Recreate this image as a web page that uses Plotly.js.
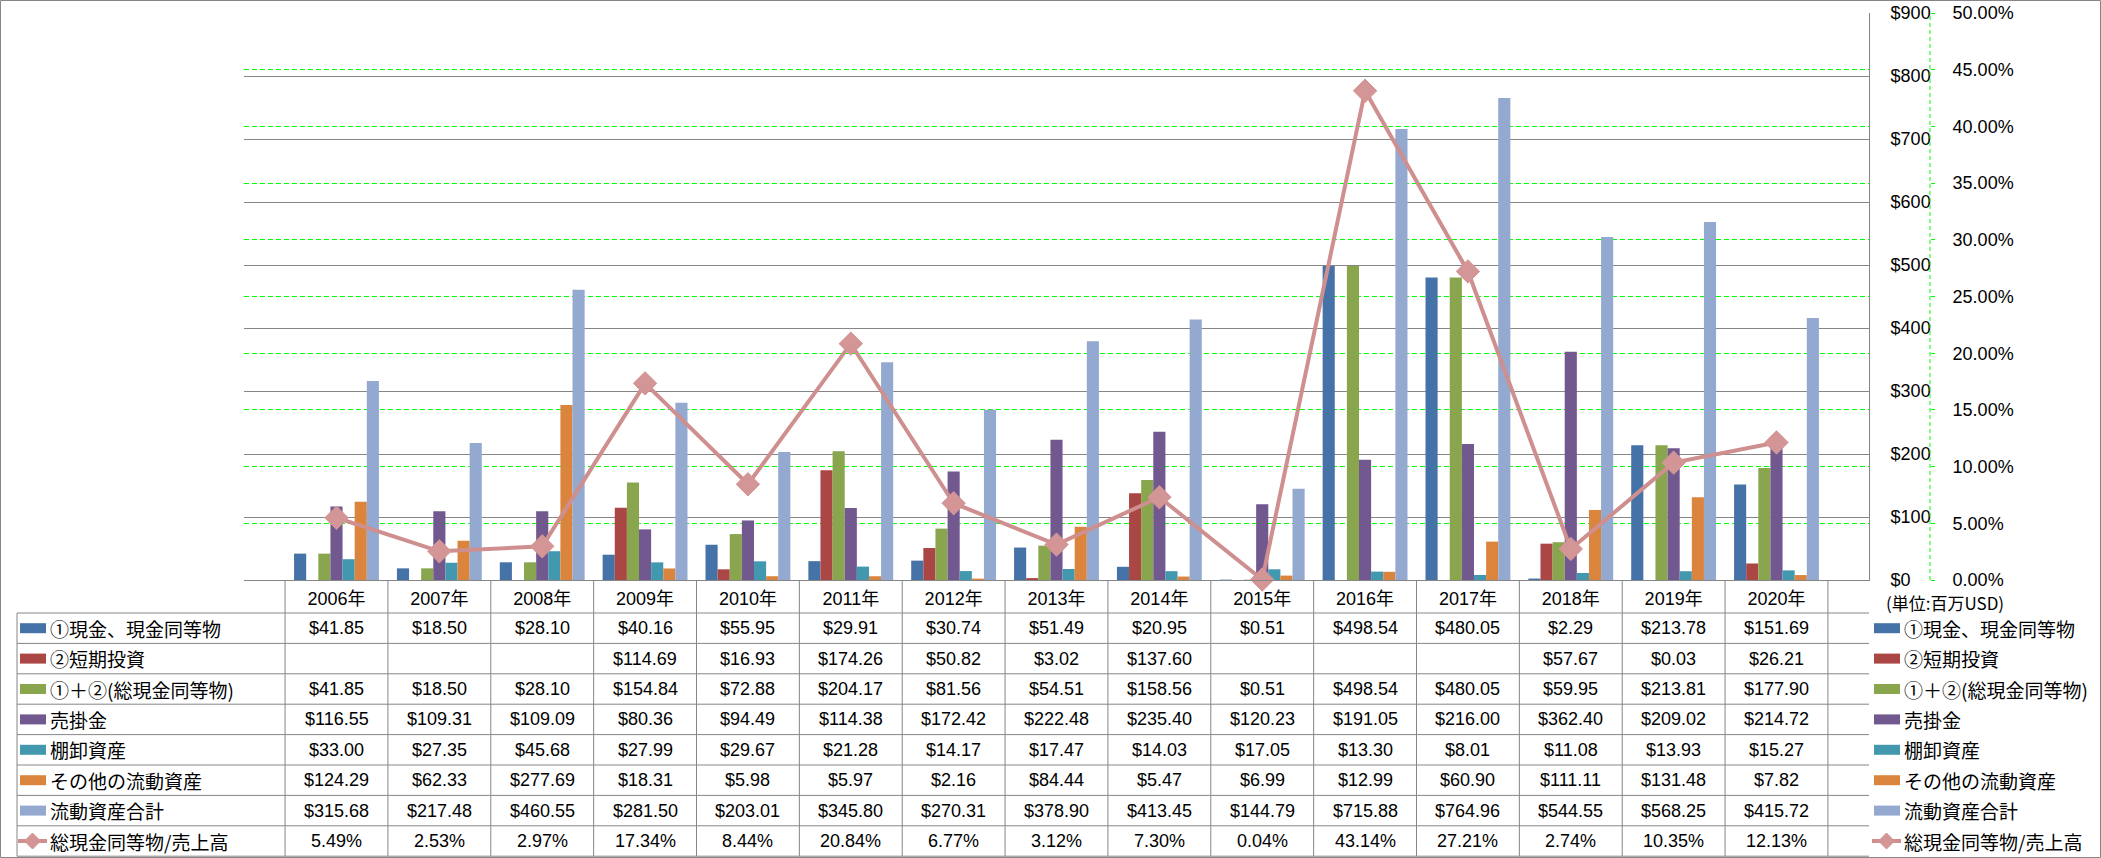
<!DOCTYPE html>
<html>
<head>
<meta charset="utf-8">
<script src="https://cdn.plot.ly/plotly-3.0.1.min.js"></script>
<style>
  body { margin: 0; background: #fff; }
  #chart { width: 2101px; height: 858px; }
</style>
</head>
<body>
<div id="chart"></div>
<script>
// 年度
const years = ["2006年", "2007年", "2008年", "2009年", "2010年", "2011年", "2012年", "2013年",
  "2014年", "2015年", "2016年", "2017年", "2018年", "2019年", "2020年"];

// 系列（百万USD）
const cash = [41.85, 18.50, 28.10, 40.16, 55.95, 29.91, 30.74, 51.49, 20.95, 0.51, 498.54, 480.05, 2.29, 213.78, 151.69];
const shortInv = [null, null, null, 114.69, 16.93, 174.26, 50.82, 3.02, 137.60, null, null, null, 57.67, 0.03, 26.21];
const totalCash = [41.85, 18.50, 28.10, 154.84, 72.88, 204.17, 81.56, 54.51, 158.56, 0.51, 498.54, 480.05, 59.95, 213.81, 177.90];
const receivables = [116.55, 109.31, 109.09, 80.36, 94.49, 114.38, 172.42, 222.48, 235.40, 120.23, 191.05, 216.00, 362.40, 209.02, 214.72];
const inventory = [33.00, 27.35, 45.68, 27.99, 29.67, 21.28, 14.17, 17.47, 14.03, 17.05, 13.30, 8.01, 11.08, 13.93, 15.27];
const otherCurrent = [124.29, 62.33, 277.69, 18.31, 5.98, 5.97, 2.16, 84.44, 5.47, 6.99, 12.99, 60.90, 111.11, 131.48, 7.82];
const currentTotal = [315.68, 217.48, 460.55, 281.50, 203.01, 345.80, 270.31, 378.90, 413.45, 144.79, 715.88, 764.96, 544.55, 568.25, 415.72];
// 総現金同等物/売上高（%）
const cashRatio = [5.49, 2.53, 2.97, 17.34, 8.44, 20.84, 6.77, 3.12, 7.30, 0.04, 43.14, 27.21, 2.74, 10.35, 12.13];

const barNames = ["①現金、現金同等物", "②短期投資", "①＋②(総現金同等物)", "売掛金", "棚卸資産", "その他の流動資産", "流動資産合計"];
const lineName = "総現金同等物/売上高";
const barSeries = [cash, shortInv, totalCash, receivables, inventory, otherCurrent, currentTotal];
const barColors = ["#4572A7", "#AA4643", "#89A54E", "#71588F", "#4198AF", "#DB843D", "#93A9CF"];
const lineColor = "#CF8F8F";
const markerColor = "#D39595";

const GRAY = "#868686";
const GREEN = "#00FF00";
const FONT = "Liberation Sans, Noto Sans CJK JP, sans-serif";
const JP_FONT = "Noto Sans CJK JP, sans-serif";

// ピクセル → paper 座標
const PL = 244, PR = 1930, PT = 13, PB = 580;
const px2x = px => (px - PL) / (PR - PL);
const px2y = py => (PB - py) / (PB - PT);

// データテーブルの寸法
const rowTop = 613, rowH = 30.4, tableLeft = 17, tableRight = 1869;

const traces = barSeries.map((vals, k) => ({
  type: "bar",
  name: barNames[k],
  x: years,
  y: vals,
  marker: { color: barColors[k] },
  hoverinfo: "skip"
}));
traces.push({
  type: "scatter",
  mode: "lines+markers",
  name: lineName,
  x: years,
  y: cashRatio,
  yaxis: "y2",
  cliponaxis: false,
  line: { color: lineColor, width: 4 },
  marker: { symbol: "diamond", size: 18, color: markerColor, line: { color: markerColor, width: 1 } },
  hoverinfo: "skip"
});

const shapes = [];
const annotations = [];

// 外枠
shapes.push({ type: "rect", xref: "paper", yref: "paper",
  x0: px2x(0.5), x1: px2x(2100.5), y0: px2y(0.5), y1: px2y(857.5),
  line: { color: GRAY, width: 1 } });

// 第2軸の破線
shapes.push({ type: "line", xref: "paper", yref: "paper", x0: 1, x1: 1, y0: 0, y1: 1,
  line: { color: GREEN, width: 1, dash: "4px,3px" } });

// テーブル横線
for (let k = 0; k <= 8; k++) {
  const y = px2y(rowTop + k * rowH);
  shapes.push({ type: "line", xref: "paper", yref: "paper", x0: px2x(tableLeft), x1: px2x(tableRight),
    y0: y, y1: y, line: { color: GRAY, width: 1 } });
}
// テーブル縦線
for (let i = 0; i <= years.length; i++) {
  shapes.push({ type: "line", xref: "x", yref: "paper", x0: i - 0.5, x1: i - 0.5,
    y0: 0, y1: px2y(rowTop + 8 * rowH), line: { color: GRAY, width: 1 } });
}
shapes.push({ type: "line", xref: "paper", yref: "paper", x0: px2x(tableLeft), x1: px2x(tableLeft),
  y0: px2y(rowTop), y1: px2y(rowTop + 8 * rowH), line: { color: GRAY, width: 1 } });

// 凡例キー（左列と右側）
const allNames = barNames.concat([lineName]);
[20, 1874].forEach(kx => {
  allNames.forEach((name, k) => {
    const yc = rowTop + (k + 0.5) * rowH;
    if (k < barNames.length) {
      shapes.push({ type: "rect", xref: "paper", yref: "paper",
        x0: px2x(kx), x1: px2x(kx + 26), y0: px2y(yc - 5), y1: px2y(yc + 5),
        fillcolor: barColors[k], line: { width: 0 } });
    } else {
      shapes.push({ type: "line", xref: "paper", yref: "paper",
        x0: px2x(kx - 2), x1: px2x(kx + 27), y0: px2y(yc), y1: px2y(yc),
        line: { color: lineColor, width: 4 } });
      const cx = kx + 12.5, d = 8;
      shapes.push({ type: "path", xref: "paper", yref: "paper",
        path: `M${px2x(cx - d)},${px2y(yc)} L${px2x(cx)},${px2y(yc - d)} L${px2x(cx + d)},${px2y(yc)} L${px2x(cx)},${px2y(yc + d)} Z`,
        fillcolor: markerColor, line: { color: markerColor, width: 1 } });
    }
    annotations.push({ xref: "paper", yref: "paper", x: px2x(kx + 28), y: px2y(yc),
      xanchor: "left", yanchor: "middle", showarrow: false, text: name,
      font: { family: JP_FONT, size: 19, color: "#000" } });
  });
});

// テーブルの値
const tableRows = barSeries.concat([cashRatio]);
tableRows.forEach((vals, k) => {
  const yc = rowTop + (k + 0.5) * rowH;
  vals.forEach((v, i) => {
    if (v === null) return;
    const txt = k < barSeries.length ? "$" + v.toFixed(2) : v.toFixed(2) + "%";
    annotations.push({ xref: "x", yref: "paper", x: years[i], y: px2y(yc),
      xanchor: "center", yanchor: "middle", showarrow: false, text: txt,
      font: { family: FONT, size: 18, color: "#000" } });
  });
});

// 単位
annotations.push({ xref: "paper", yref: "paper", x: px2x(1884), y: px2y(602),
  xanchor: "left", yanchor: "middle", showarrow: false, text: "(単位:百万USD)",
  font: { family: JP_FONT, size: 17, color: "#000" } });

const layout = {
  width: 2101,
  height: 858,
  margin: { l: PL, r: 2101 - PR, t: PT, b: 858 - PB, pad: 0 },
  paper_bgcolor: "#fff",
  plot_bgcolor: "#fff",
  font: { family: FONT, size: 18, color: "#000" },
  showlegend: false,
  barmode: "group",
  bargap: 0.175,
  bargroupgap: 0,
  hovermode: false,
  xaxis: {
    type: "category",
    domain: [0, (1869 - PL) / (PR - PL)],
    showline: true, linecolor: GRAY, linewidth: 1,
    showgrid: false, ticks: "", zeroline: false,
    ticklabelstandoff: 2,
    tickfont: { family: FONT, size: 18, color: "#000" }
  },
  yaxis: {
    range: [0, 900], tick0: 0, dtick: 100,
    tickprefix: "$",
    side: "right",
    showline: true, linecolor: GRAY, linewidth: 1,
    showgrid: true, gridcolor: GRAY, gridwidth: 1,
    zeroline: false, ticks: "",
    ticklabelstandoff: 17,
    tickfont: { family: FONT, size: 18, color: "#000" }
  },
  yaxis2: {
    overlaying: "y", anchor: "free", position: 1, side: "right",
    range: [0, 50], tick0: 0, dtick: 5,
    tickformat: ".2f", ticksuffix: "%",
    showgrid: true, gridcolor: GREEN, gridwidth: 1, griddash: "5px,3px",
    showline: false, zeroline: false,
    ticks: "outside", ticklen: 4, tickcolor: GREEN,
    ticklabelstandoff: 14,
    tickfont: { family: FONT, size: 18, color: "#000" }
  },
  shapes: shapes,
  annotations: annotations
};

Plotly.newPlot("chart", traces, layout, { displayModeBar: false, staticPlot: true });
</script>
</body>
</html>
